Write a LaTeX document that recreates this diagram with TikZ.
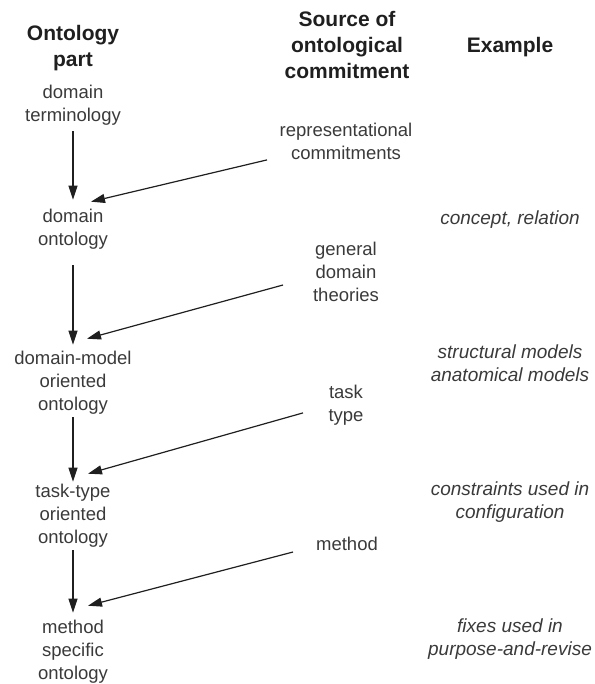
\documentclass[tikz,border=0pt]{standalone}
\usepackage{fontspec}
\setmainfont{Liberation Sans}
\usetikzlibrary{arrows.meta}

\definecolor{ink}{HTML}{3A3A3A}
\definecolor{headink}{HTML}{1F1F1F}
\definecolor{lineink}{HTML}{1F1F1F}

% centred block of lines whose baseline is the first line
\newcommand\rowsof[1]{\begin{tabular}[t]{@{}c@{}}#1\end{tabular}}

\tikzset{
  header/.style={anchor=base, inner sep=0pt, text=headink,
    font=\fontsize{21}{26}\selectfont\bfseries},
  part/.style={anchor=base, inner sep=0pt, text=ink,
    font=\fontsize{18.5}{23}\selectfont},
  source/.style={part},
  example/.style={part, font=\fontsize{19}{23}\selectfont\itshape},
  flow/.style={draw=lineink, line width=1.2pt,
    -{Triangle[length=14pt,width=9pt]}},
}

\begin{document}
\begin{tikzpicture}[x=1pt,y=-1pt]
\useasboundingbox (0,0) rectangle (594,684);

% column headings
\node[header] (hpart) at (73,41)  {\rowsof{Ontology\\part}};
\node[header] (hsrc)  at (347,27) {\rowsof{Source of\\ontological\\commitment}};
\node[header] (hex)   at (510,53) {\rowsof{Example}};

% ontology parts
\node[part] (p1) at (73,99)  {\rowsof{domain\\terminology}};
\node[part] (p2) at (73,223) {\rowsof{domain\\ontology}};
\node[part] (p3) at (73,364) {\rowsof{domain-model\\oriented\\ontology}};
\node[part] (p4) at (73,497) {\rowsof{task-type\\oriented\\ontology}};
\node[part] (p5) at (73,633) {\rowsof{method\\specific\\ontology}};

% sources of commitment
\node[source] (s1) at (346,137) {\rowsof{representational\\commitments}};
\node[source] (s2) at (346,255) {\rowsof{general\\domain\\theories}};
\node[source] (s3) at (346,398) {\rowsof{task\\type}};
\node[source] (s4) at (347,550) {\rowsof{method}};

% examples
\node[example] (e2) at (510,225) {\rowsof{concept, relation}};
\node[example] (e3) at (510,358) {\rowsof{structural models\\anatomical models}};
\node[example] (e4) at (510,495) {\rowsof{constraints used in\\configuration}};
\node[example] (e5) at (510,632) {\rowsof{fixes used in\\purpose-and-revise}};

% refinement chain
\draw[flow] ([yshift=-2pt]p1.south)  -- ([yshift=7pt]p2.north);
\draw[flow] ([yshift=-12pt]p2.south) -- ([yshift=3pt]p3.north);
\draw[flow] (p3.south)               -- ([yshift=-1pt]p4.north);
\draw[flow] (p4.south)               -- ([yshift=4pt]p5.north);

% commitments feeding each part
\draw[flow] ([xshift=-79pt,yshift=-16pt]s1.center)   -- ([xshift=18pt,yshift=5pt]p2.north);
\draw[flow] ([xshift=-63pt,yshift=-11.6pt]s2.center) -- ([xshift=14pt,yshift=9pt]p3.north);
\draw[flow] ([xshift=-43pt,yshift=-8pt]s3.center)    -- ([xshift=15pt,yshift=7pt]p4.north);
\draw[flow] ([xshift=-54pt,yshift=-6.6pt]s4.center)  -- ([xshift=15pt,yshift=11pt]p5.north);
\end{tikzpicture}
\end{document}
